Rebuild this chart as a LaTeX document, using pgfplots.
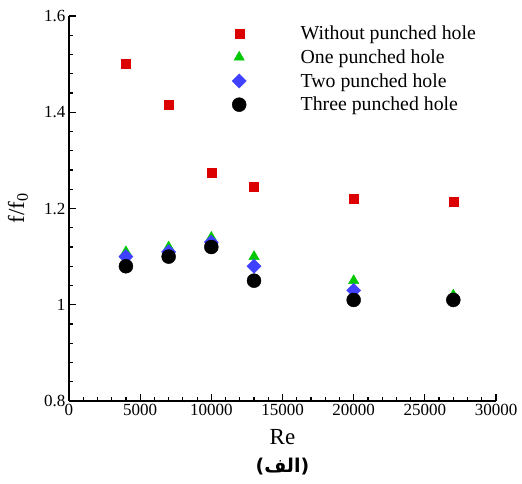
\documentclass[border=0pt]{standalone}
\usepackage{fontspec}
\setmainfont{Liberation Serif}
\newfontfamily\arabicfont[Script=Arabic]{DejaVu Sans}
\newfontfamily\dejavu{DejaVu Sans}
\TeXXeTstate=1
\usepackage{pgfplots}
\pgfplotsset{compat=1.18}
\definecolor{cred}{RGB}{220,0,0}
\definecolor{cgreen}{RGB}{0,200,0}
\definecolor{cblue}{RGB}{64,64,255}
\begin{document}
\begin{tikzpicture}
\begin{axis}[
  scale only axis,
  width=427bp, height=385bp,
  xmin=0, xmax=30000, ymin=0.8, ymax=1.6,
  axis lines*=left,
  axis line style={line width=1.6bp},
  tick align=inside,
  major tick length=7bp, minor tick length=4bp,
  every tick/.style={black, line width=1.2bp},
  xtick={0,5000,...,30000},
  ytick={0.8,1,1.2,1.4,1.6},
  minor x tick num=4, minor y tick num=4,
  scaled x ticks=false,
  xticklabel style={/pgf/number format/1000 sep={}},
  /pgf/number format/assume math mode=true,
  tick label style={font=\fontsize{17bp}{20bp}\selectfont},
  xlabel={Re}, ylabel={f/f\textsubscript{0}},
  every axis x label/.style={at={(axis description cs:0.5,0)}, yshift=-36bp, anchor=center, font=\fontsize{23bp}{26bp}\selectfont},
  every axis y label/.style={at={(axis description cs:0,0.5)}, xshift=-51bp, rotate=90, anchor=center, font=\fontsize{23bp}{26bp}\selectfont},
  only marks,
  legend image code/.code={\draw[#1] plot coordinates {(0,0)}; \path[draw=none,fill=none] (-8bp,0) -- (59.5bp,0);},
  legend cell align=left,
  legend style={draw=none, fill=none, at={(axis description cs:0.3794,0.98)}, anchor=north west, inner xsep=0pt, inner ysep=0pt, row sep=4.5bp, font=\fontsize{19.8bp}{22bp}\selectfont},
]
\addplot[mark=square*, mark size=4.5bp, color=cred] coordinates {(4000,1.5) (7000,1.415) (10000,1.275) (13000,1.245) (20000,1.22) (27000,1.215)};
\addlegendentry{Without punched hole}
\addplot[mark=triangle*, mark size=6bp, color=cgreen] coordinates {(4000,1.11) (7000,1.12) (10000,1.14) (13000,1.10) (20000,1.05) (27000,1.02)};
\addlegendentry{One punched hole}
\addplot[mark=square*, mark size=5bp, mark options={rotate=45}, color=cblue] coordinates {(4000,1.10) (7000,1.11) (10000,1.13) (13000,1.08) (20000,1.03) (27000,1.01)};
\addlegendentry{Two punched hole}
\addplot[mark=*, mark size=7bp, color=black] coordinates {(4000,1.08) (7000,1.10) (10000,1.12) (13000,1.05) (20000,1.01) (27000,1.01)};
\addlegendentry{Three punched hole}
\end{axis}
\node[font=\bfseries\fontsize{19bp}{22bp}\selectfont, anchor=center, inner sep=0pt] at (213.5bp,-66bp) {\hbox{\dejavu (}\hbox{\arabicfont\beginR الف\endR}\hbox{\dejavu )}};
\pgfresetboundingbox
\path (-69bp,-83bp) rectangle (453bp,401bp);
\end{tikzpicture}
\end{document}
